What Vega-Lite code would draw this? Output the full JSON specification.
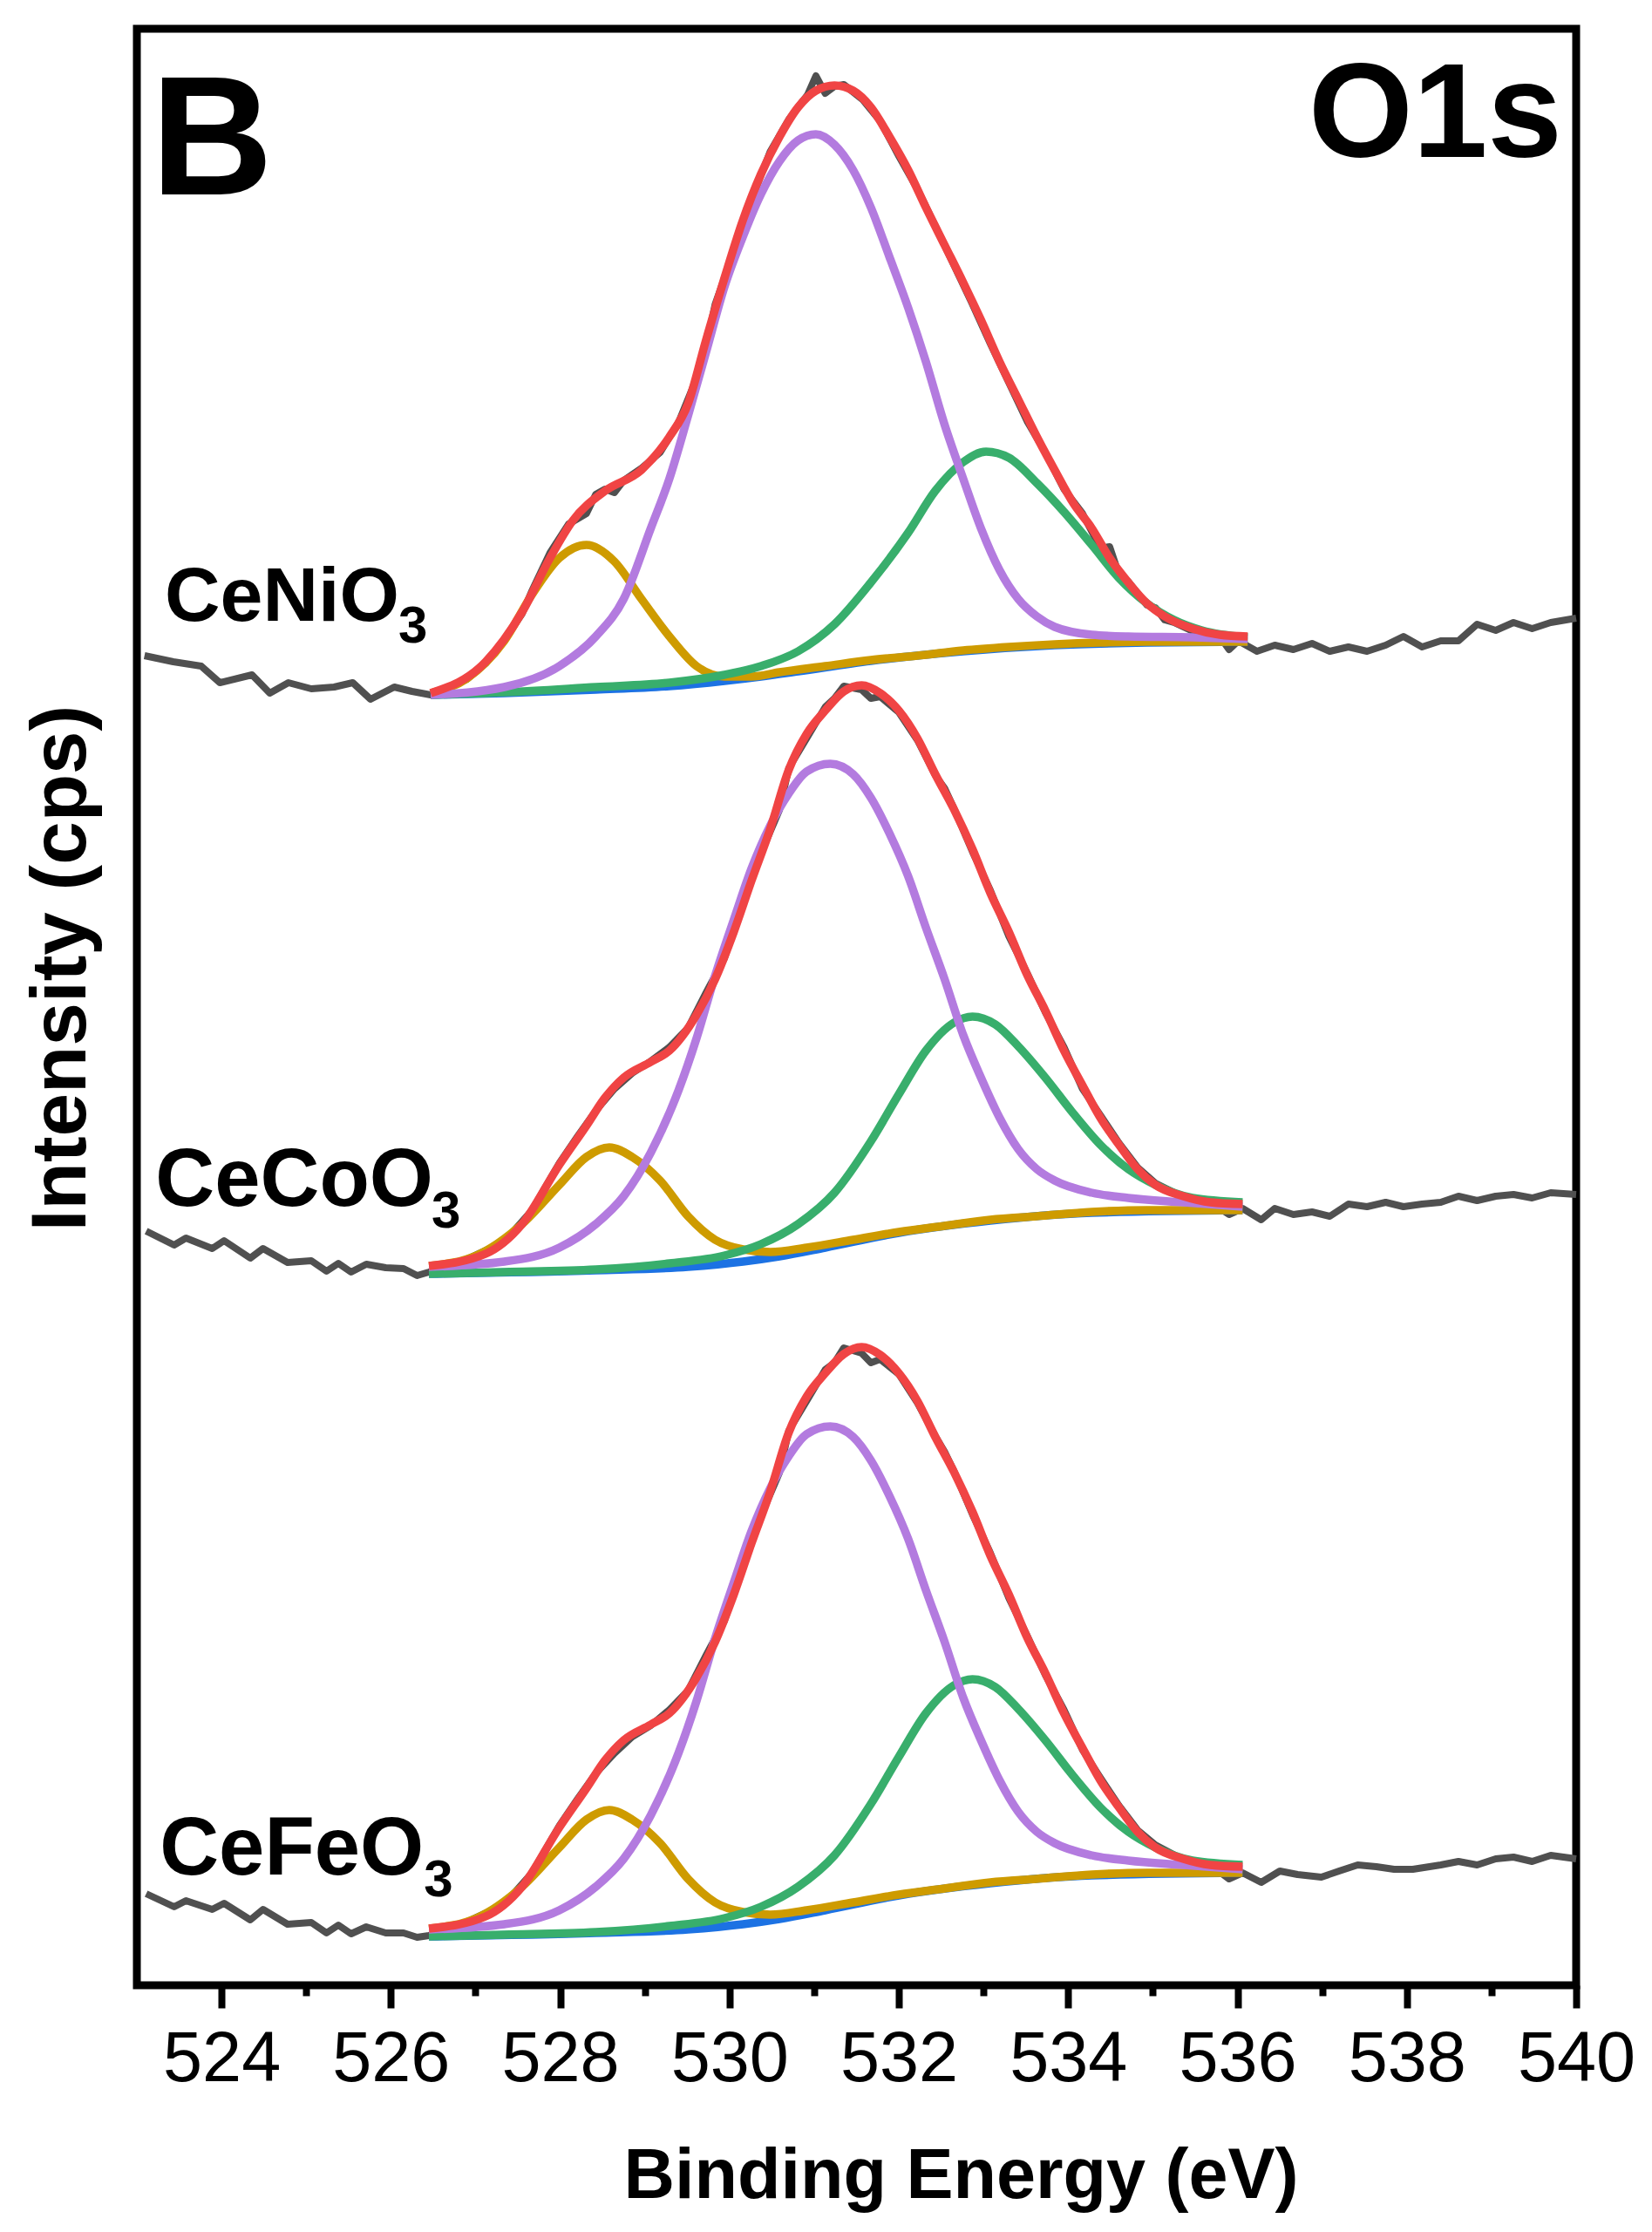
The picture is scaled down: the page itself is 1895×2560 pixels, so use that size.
{
  "$schema": "https://vega.github.io/schema/vega-lite/v6.json",
  "width": 1651,
  "height": 2244,
  "autosize": {"type": "none"},
  "padding": {"left": 157, "top": 33, "right": 87, "bottom": 283},
  "background": "white",
  "config": {
    "view": {"stroke": "black", "strokeWidth": 9},
    "axis": {"grid": false}
  },
  "datasets": {
    "spec": [
      {"s":"Ni","c":"raw","e":523.09,"v":1527},{"s":"Ni","c":"raw","e":523.43,"v":1520},{"s":"Ni","c":"raw","e":523.76,"v":1515},{"s":"Ni","c":"raw","e":523.98,"v":1496},
      {"s":"Ni","c":"raw","e":524.36,"v":1505},{"s":"Ni","c":"raw","e":524.57,"v":1484},{"s":"Ni","c":"raw","e":524.79,"v":1496},{"s":"Ni","c":"raw","e":525.06,"v":1489},
      {"s":"Ni","c":"raw","e":525.33,"v":1491},{"s":"Ni","c":"raw","e":525.55,"v":1496},{"s":"Ni","c":"raw","e":525.76,"v":1477},{"s":"Ni","c":"raw","e":526.04,"v":1491},
      {"s":"Ni","c":"raw","e":526.25,"v":1486},{"s":"Ni","c":"raw","e":526.47,"v":1482},{"s":"Ni","c":"raw","e":526.9,"v":1500},{"s":"Ni","c":"raw","e":527.12,"v":1518},
      {"s":"Ni","c":"raw","e":527.34,"v":1545},{"s":"Ni","c":"raw","e":527.55,"v":1575},{"s":"Ni","c":"raw","e":527.66,"v":1600},{"s":"Ni","c":"raw","e":527.88,"v":1645},
      {"s":"Ni","c":"raw","e":528.1,"v":1678},{"s":"Ni","c":"raw","e":528.31,"v":1690},{"s":"Ni","c":"raw","e":528.42,"v":1712},{"s":"Ni","c":"raw","e":528.53,"v":1718},
      {"s":"Ni","c":"raw","e":528.64,"v":1714},{"s":"Ni","c":"raw","e":528.75,"v":1728},{"s":"Ni","c":"raw","e":528.96,"v":1742},{"s":"Ni","c":"raw","e":529.18,"v":1760},
      {"s":"Ni","c":"raw","e":529.4,"v":1795},{"s":"Ni","c":"raw","e":529.61,"v":1845},{"s":"Ni","c":"raw","e":529.72,"v":1880},{"s":"Ni","c":"raw","e":529.83,"v":1930},
      {"s":"Ni","c":"raw","e":530.05,"v":1990},{"s":"Ni","c":"raw","e":530.26,"v":2050},{"s":"Ni","c":"raw","e":530.48,"v":2105},{"s":"Ni","c":"raw","e":530.7,"v":2142},
      {"s":"Ni","c":"raw","e":530.92,"v":2170},{"s":"Ni","c":"raw","e":531.02,"v":2192},{"s":"Ni","c":"raw","e":531.13,"v":2172},{"s":"Ni","c":"raw","e":531.24,"v":2180},
      {"s":"Ni","c":"raw","e":531.35,"v":2182},{"s":"Ni","c":"raw","e":531.57,"v":2165},{"s":"Ni","c":"raw","e":531.78,"v":2140},{"s":"Ni","c":"raw","e":532.0,"v":2100},
      {"s":"Ni","c":"raw","e":532.22,"v":2062},{"s":"Ni","c":"raw","e":532.43,"v":2020},{"s":"Ni","c":"raw","e":532.65,"v":1975},{"s":"Ni","c":"raw","e":532.86,"v":1932},
      {"s":"Ni","c":"raw","e":533.08,"v":1885},{"s":"Ni","c":"raw","e":533.3,"v":1840},{"s":"Ni","c":"raw","e":533.52,"v":1795},{"s":"Ni","c":"raw","e":533.73,"v":1760},
      {"s":"Ni","c":"raw","e":533.95,"v":1718},{"s":"Ni","c":"raw","e":534.17,"v":1690},{"s":"Ni","c":"raw","e":534.38,"v":1650},{"s":"Ni","c":"raw","e":534.49,"v":1652},
      {"s":"Ni","c":"raw","e":534.6,"v":1620},{"s":"Ni","c":"raw","e":534.71,"v":1612},{"s":"Ni","c":"raw","e":534.93,"v":1585},{"s":"Ni","c":"raw","e":535.03,"v":1582},
      {"s":"Ni","c":"raw","e":535.14,"v":1568},{"s":"Ni","c":"raw","e":535.25,"v":1565},{"s":"Ni","c":"raw","e":535.47,"v":1555},{"s":"Ni","c":"raw","e":535.79,"v":1549},
      {"s":"Ni","c":"raw","e":535.9,"v":1534},{"s":"Ni","c":"raw","e":536.01,"v":1544},{"s":"Ni","c":"raw","e":536.23,"v":1532},{"s":"Ni","c":"raw","e":536.44,"v":1539},
      {"s":"Ni","c":"raw","e":536.66,"v":1534},{"s":"Ni","c":"raw","e":536.88,"v":1541},{"s":"Ni","c":"raw","e":537.09,"v":1532},{"s":"Ni","c":"raw","e":537.31,"v":1537},
      {"s":"Ni","c":"raw","e":537.53,"v":1532},{"s":"Ni","c":"raw","e":537.75,"v":1539},{"s":"Ni","c":"raw","e":537.96,"v":1549},{"s":"Ni","c":"raw","e":538.18,"v":1537},
      {"s":"Ni","c":"raw","e":538.4,"v":1544},{"s":"Ni","c":"raw","e":538.61,"v":1544},{"s":"Ni","c":"raw","e":538.83,"v":1563},{"s":"Ni","c":"raw","e":539.05,"v":1556},
      {"s":"Ni","c":"raw","e":539.26,"v":1565},{"s":"Ni","c":"raw","e":539.48,"v":1558},{"s":"Ni","c":"raw","e":539.7,"v":1565},{"s":"Ni","c":"raw","e":540.0,"v":1570},

      {"s":"Ni","c":"env","e":526.47,"v":1484},{"s":"Ni","c":"env","e":527.12,"v":1520},{"s":"Ni","c":"env","e":527.55,"v":1577},{"s":"Ni","c":"env","e":527.88,"v":1639},
      {"s":"Ni","c":"env","e":528.15,"v":1682},{"s":"Ni","c":"env","e":528.53,"v":1716},{"s":"Ni","c":"env","e":528.96,"v":1740},{"s":"Ni","c":"env","e":529.29,"v":1778},
      {"s":"Ni","c":"env","e":529.51,"v":1816},{"s":"Ni","c":"env","e":529.72,"v":1888},{"s":"Ni","c":"env","e":529.94,"v":1960},{"s":"Ni","c":"env","e":530.16,"v":2027},
      {"s":"Ni","c":"env","e":530.37,"v":2079},{"s":"Ni","c":"env","e":530.59,"v":2122},{"s":"Ni","c":"env","e":530.81,"v":2156},{"s":"Ni","c":"env","e":531.02,"v":2175},
      {"s":"Ni","c":"env","e":531.24,"v":2181},{"s":"Ni","c":"env","e":531.46,"v":2175},{"s":"Ni","c":"env","e":531.67,"v":2156},{"s":"Ni","c":"env","e":531.89,"v":2122},
      {"s":"Ni","c":"env","e":532.11,"v":2084},{"s":"Ni","c":"env","e":532.32,"v":2041},{"s":"Ni","c":"env","e":532.54,"v":1998},{"s":"Ni","c":"env","e":532.76,"v":1955},
      {"s":"Ni","c":"env","e":532.97,"v":1912},{"s":"Ni","c":"env","e":533.19,"v":1864},{"s":"Ni","c":"env","e":533.41,"v":1821},{"s":"Ni","c":"env","e":533.63,"v":1778},
      {"s":"Ni","c":"env","e":533.84,"v":1740},{"s":"Ni","c":"env","e":534.06,"v":1702},{"s":"Ni","c":"env","e":534.28,"v":1673},{"s":"Ni","c":"env","e":534.49,"v":1639},
      {"s":"Ni","c":"env","e":534.71,"v":1611},{"s":"Ni","c":"env","e":534.93,"v":1587},{"s":"Ni","c":"env","e":535.14,"v":1572},{"s":"Ni","c":"env","e":535.47,"v":1558},
      {"s":"Ni","c":"env","e":535.79,"v":1551},{"s":"Ni","c":"env","e":536.12,"v":1549},

      {"s":"Ni","c":"p1","e":526.47,"v":1482},{"s":"Ni","c":"p1","e":527.34,"v":1491},{"s":"Ni","c":"p1","e":527.99,"v":1515},{"s":"Ni","c":"p1","e":528.42,"v":1549},
      {"s":"Ni","c":"p1","e":528.75,"v":1592},{"s":"Ni","c":"p1","e":529.07,"v":1673},{"s":"Ni","c":"p1","e":529.29,"v":1730},{"s":"Ni","c":"p1","e":529.51,"v":1802},
      {"s":"Ni","c":"p1","e":529.72,"v":1874},{"s":"Ni","c":"p1","e":529.94,"v":1950},{"s":"Ni","c":"p1","e":530.16,"v":2008},{"s":"Ni","c":"p1","e":530.37,"v":2056},
      {"s":"Ni","c":"p1","e":530.59,"v":2094},{"s":"Ni","c":"p1","e":530.81,"v":2118},{"s":"Ni","c":"p1","e":531.02,"v":2125},{"s":"Ni","c":"p1","e":531.24,"v":2113},
      {"s":"Ni","c":"p1","e":531.46,"v":2084},{"s":"Ni","c":"p1","e":531.67,"v":2041},{"s":"Ni","c":"p1","e":531.89,"v":1984},{"s":"Ni","c":"p1","e":532.11,"v":1926},
      {"s":"Ni","c":"p1","e":532.32,"v":1864},{"s":"Ni","c":"p1","e":532.54,"v":1792},{"s":"Ni","c":"p1","e":532.76,"v":1730},{"s":"Ni","c":"p1","e":532.97,"v":1673},
      {"s":"Ni","c":"p1","e":533.19,"v":1625},{"s":"Ni","c":"p1","e":533.41,"v":1592},{"s":"Ni","c":"p1","e":533.63,"v":1572},{"s":"Ni","c":"p1","e":533.84,"v":1560},
      {"s":"Ni","c":"p1","e":534.28,"v":1551},{"s":"Ni","c":"p1","e":534.71,"v":1549},{"s":"Ni","c":"p1","e":535.47,"v":1548},{"s":"Ni","c":"p1","e":536.12,"v":1546},

      {"s":"Ni","c":"p2","e":526.47,"v":1482},{"s":"Ni","c":"p2","e":527.34,"v":1485},{"s":"Ni","c":"p2","e":528.42,"v":1491},{"s":"Ni","c":"p2","e":529.29,"v":1496},
      {"s":"Ni","c":"p2","e":529.94,"v":1505},{"s":"Ni","c":"p2","e":530.37,"v":1515},{"s":"Ni","c":"p2","e":530.81,"v":1532},{"s":"Ni","c":"p2","e":531.24,"v":1563},
      {"s":"Ni","c":"p2","e":531.67,"v":1611},{"s":"Ni","c":"p2","e":532.11,"v":1668},{"s":"Ni","c":"p2","e":532.43,"v":1716},{"s":"Ni","c":"p2","e":532.76,"v":1749},
      {"s":"Ni","c":"p2","e":533.03,"v":1761},{"s":"Ni","c":"p2","e":533.3,"v":1754},{"s":"Ni","c":"p2","e":533.63,"v":1725},{"s":"Ni","c":"p2","e":533.95,"v":1692},
      {"s":"Ni","c":"p2","e":534.28,"v":1654},{"s":"Ni","c":"p2","e":534.6,"v":1616},{"s":"Ni","c":"p2","e":534.93,"v":1587},{"s":"Ni","c":"p2","e":535.25,"v":1568},
      {"s":"Ni","c":"p2","e":535.58,"v":1556},{"s":"Ni","c":"p2","e":536.12,"v":1548},

      {"s":"Ni","c":"p3","e":526.47,"v":1484},{"s":"Ni","c":"p3","e":526.9,"v":1501},{"s":"Ni","c":"p3","e":527.34,"v":1544},{"s":"Ni","c":"p3","e":527.66,"v":1596},
      {"s":"Ni","c":"p3","e":527.99,"v":1639},{"s":"Ni","c":"p3","e":528.31,"v":1654},{"s":"Ni","c":"p3","e":528.64,"v":1635},{"s":"Ni","c":"p3","e":528.96,"v":1592},
      {"s":"Ni","c":"p3","e":529.29,"v":1549},{"s":"Ni","c":"p3","e":529.61,"v":1515},{"s":"Ni","c":"p3","e":529.94,"v":1503},{"s":"Ni","c":"p3","e":530.26,"v":1503},
      {"s":"Ni","c":"p3","e":530.59,"v":1508},{"s":"Ni","c":"p3","e":531.13,"v":1515},{"s":"Ni","c":"p3","e":531.67,"v":1522},{"s":"Ni","c":"p3","e":532.22,"v":1527},
      {"s":"Ni","c":"p3","e":532.76,"v":1533},{"s":"Ni","c":"p3","e":533.3,"v":1537},{"s":"Ni","c":"p3","e":533.84,"v":1540},{"s":"Ni","c":"p3","e":534.38,"v":1542},
      {"s":"Ni","c":"p3","e":534.93,"v":1543},{"s":"Ni","c":"p3","e":536.12,"v":1543},

      {"s":"Ni","c":"bg","e":526.47,"v":1482},{"s":"Ni","c":"bg","e":527.34,"v":1484},{"s":"Ni","c":"bg","e":528.42,"v":1488},{"s":"Ni","c":"bg","e":529.29,"v":1492},
      {"s":"Ni","c":"bg","e":529.94,"v":1498},{"s":"Ni","c":"bg","e":530.37,"v":1503},{"s":"Ni","c":"bg","e":530.81,"v":1509},{"s":"Ni","c":"bg","e":531.67,"v":1521},
      {"s":"Ni","c":"bg","e":532.76,"v":1532},{"s":"Ni","c":"bg","e":533.84,"v":1539},{"s":"Ni","c":"bg","e":534.93,"v":1542},{"s":"Ni","c":"bg","e":536.12,"v":1543},

      {"s":"Co","c":"raw","e":523.11,"v":867},{"s":"Co","c":"raw","e":523.44,"v":851},{"s":"Co","c":"raw","e":523.58,"v":859},{"s":"Co","c":"raw","e":523.89,"v":847},
      {"s":"Co","c":"raw","e":524.03,"v":856},{"s":"Co","c":"raw","e":524.34,"v":836},{"s":"Co","c":"raw","e":524.49,"v":847},{"s":"Co","c":"raw","e":524.78,"v":831},
      {"s":"Co","c":"raw","e":525.06,"v":833},{"s":"Co","c":"raw","e":525.24,"v":821},{"s":"Co","c":"raw","e":525.38,"v":830},{"s":"Co","c":"raw","e":525.53,"v":820},
      {"s":"Co","c":"raw","e":525.71,"v":829},{"s":"Co","c":"raw","e":525.94,"v":825},{"s":"Co","c":"raw","e":526.15,"v":824},{"s":"Co","c":"raw","e":526.31,"v":816},
      {"s":"Co","c":"raw","e":526.45,"v":820},{"s":"Co","c":"raw","e":526.9,"v":835},{"s":"Co","c":"raw","e":527.34,"v":855},{"s":"Co","c":"raw","e":527.66,"v":890},
      {"s":"Co","c":"raw","e":527.99,"v":945},{"s":"Co","c":"raw","e":528.2,"v":975},{"s":"Co","c":"raw","e":528.42,"v":1005},{"s":"Co","c":"raw","e":528.64,"v":1030},
      {"s":"Co","c":"raw","e":528.85,"v":1048},{"s":"Co","c":"raw","e":529.07,"v":1062},{"s":"Co","c":"raw","e":529.29,"v":1078},{"s":"Co","c":"raw","e":529.51,"v":1100},
      {"s":"Co","c":"raw","e":529.72,"v":1140},{"s":"Co","c":"raw","e":529.94,"v":1180},{"s":"Co","c":"raw","e":530.16,"v":1245},{"s":"Co","c":"raw","e":530.37,"v":1300},
      {"s":"Co","c":"raw","e":530.59,"v":1350},{"s":"Co","c":"raw","e":530.7,"v":1398},{"s":"Co","c":"raw","e":530.91,"v":1432},{"s":"Co","c":"raw","e":531.13,"v":1468},
      {"s":"Co","c":"raw","e":531.24,"v":1478},{"s":"Co","c":"raw","e":531.35,"v":1492},{"s":"Co","c":"raw","e":531.56,"v":1488},{"s":"Co","c":"raw","e":531.67,"v":1478},
      {"s":"Co","c":"raw","e":531.78,"v":1480},{"s":"Co","c":"raw","e":532.0,"v":1462},{"s":"Co","c":"raw","e":532.22,"v":1430},{"s":"Co","c":"raw","e":532.43,"v":1390},
      {"s":"Co","c":"raw","e":532.54,"v":1375},{"s":"Co","c":"raw","e":532.65,"v":1352},{"s":"Co","c":"raw","e":532.87,"v":1302},{"s":"Co","c":"raw","e":533.08,"v":1258},
      {"s":"Co","c":"raw","e":533.3,"v":1205},{"s":"Co","c":"raw","e":533.52,"v":1162},{"s":"Co","c":"raw","e":533.73,"v":1118},{"s":"Co","c":"raw","e":533.95,"v":1078},
      {"s":"Co","c":"raw","e":534.17,"v":1030},{"s":"Co","c":"raw","e":534.38,"v":1000},{"s":"Co","c":"raw","e":534.6,"v":968},{"s":"Co","c":"raw","e":534.82,"v":940},
      {"s":"Co","c":"raw","e":535.03,"v":922},{"s":"Co","c":"raw","e":535.36,"v":906},{"s":"Co","c":"raw","e":535.68,"v":900},{"s":"Co","c":"raw","e":535.9,"v":886},
      {"s":"Co","c":"raw","e":536.06,"v":893},{"s":"Co","c":"raw","e":536.28,"v":880},{"s":"Co","c":"raw","e":536.44,"v":893},{"s":"Co","c":"raw","e":536.66,"v":886},
      {"s":"Co","c":"raw","e":536.88,"v":889},{"s":"Co","c":"raw","e":537.09,"v":884},{"s":"Co","c":"raw","e":537.31,"v":898},{"s":"Co","c":"raw","e":537.53,"v":895},
      {"s":"Co","c":"raw","e":537.75,"v":900},{"s":"Co","c":"raw","e":537.96,"v":895},{"s":"Co","c":"raw","e":538.18,"v":898},{"s":"Co","c":"raw","e":538.4,"v":900},
      {"s":"Co","c":"raw","e":538.61,"v":907},{"s":"Co","c":"raw","e":538.83,"v":902},{"s":"Co","c":"raw","e":539.05,"v":907},{"s":"Co","c":"raw","e":539.26,"v":909},
      {"s":"Co","c":"raw","e":539.48,"v":905},{"s":"Co","c":"raw","e":539.7,"v":911},{"s":"Co","c":"raw","e":540.0,"v":909},

      {"s":"Co","c":"env","e":526.45,"v":827},{"s":"Co","c":"env","e":527.12,"v":841},{"s":"Co","c":"env","e":527.55,"v":875},{"s":"Co","c":"env","e":527.99,"v":943},
      {"s":"Co","c":"env","e":528.31,"v":988},{"s":"Co","c":"env","e":528.53,"v":1020},{"s":"Co","c":"env","e":528.75,"v":1043},{"s":"Co","c":"env","e":529.07,"v":1061},
      {"s":"Co","c":"env","e":529.29,"v":1074},{"s":"Co","c":"env","e":529.61,"v":1115},{"s":"Co","c":"env","e":529.83,"v":1156},{"s":"Co","c":"env","e":530.05,"v":1210},
      {"s":"Co","c":"env","e":530.26,"v":1269},{"s":"Co","c":"env","e":530.48,"v":1328},{"s":"Co","c":"env","e":530.7,"v":1396},{"s":"Co","c":"env","e":530.91,"v":1437},
      {"s":"Co","c":"env","e":531.13,"v":1464},{"s":"Co","c":"env","e":531.35,"v":1486},{"s":"Co","c":"env","e":531.56,"v":1493},{"s":"Co","c":"env","e":531.78,"v":1484},
      {"s":"Co","c":"env","e":532.0,"v":1464},{"s":"Co","c":"env","e":532.22,"v":1432},{"s":"Co","c":"env","e":532.43,"v":1391},{"s":"Co","c":"env","e":532.65,"v":1351},
      {"s":"Co","c":"env","e":532.87,"v":1305},{"s":"Co","c":"env","e":533.08,"v":1255},{"s":"Co","c":"env","e":533.3,"v":1210},{"s":"Co","c":"env","e":533.52,"v":1160},
      {"s":"Co","c":"env","e":533.73,"v":1120},{"s":"Co","c":"env","e":533.95,"v":1074},{"s":"Co","c":"env","e":534.17,"v":1034},{"s":"Co","c":"env","e":534.38,"v":997},
      {"s":"Co","c":"env","e":534.6,"v":966},{"s":"Co","c":"env","e":534.82,"v":938},{"s":"Co","c":"env","e":535.03,"v":920},{"s":"Co","c":"env","e":535.36,"v":907},
      {"s":"Co","c":"env","e":535.68,"v":900},{"s":"Co","c":"env","e":536.06,"v":898},

      {"s":"Co","c":"p1","e":526.45,"v":826},{"s":"Co","c":"p1","e":527.34,"v":832},{"s":"Co","c":"p1","e":527.99,"v":848},{"s":"Co","c":"p1","e":528.42,"v":875},
      {"s":"Co","c":"p1","e":528.75,"v":907},{"s":"Co","c":"p1","e":529.07,"v":957},{"s":"Co","c":"p1","e":529.4,"v":1029},{"s":"Co","c":"p1","e":529.61,"v":1088},
      {"s":"Co","c":"p1","e":529.83,"v":1160},{"s":"Co","c":"p1","e":530.05,"v":1224},{"s":"Co","c":"p1","e":530.26,"v":1283},{"s":"Co","c":"p1","e":530.48,"v":1332},
      {"s":"Co","c":"p1","e":530.7,"v":1369},{"s":"Co","c":"p1","e":530.91,"v":1394},{"s":"Co","c":"p1","e":531.19,"v":1403},{"s":"Co","c":"p1","e":531.46,"v":1391},
      {"s":"Co","c":"p1","e":531.67,"v":1364},{"s":"Co","c":"p1","e":531.89,"v":1323},{"s":"Co","c":"p1","e":532.11,"v":1274},{"s":"Co","c":"p1","e":532.32,"v":1215},
      {"s":"Co","c":"p1","e":532.54,"v":1156},{"s":"Co","c":"p1","e":532.76,"v":1092},{"s":"Co","c":"p1","e":532.97,"v":1043},{"s":"Co","c":"p1","e":533.19,"v":997},
      {"s":"Co","c":"p1","e":533.41,"v":961},{"s":"Co","c":"p1","e":533.63,"v":938},{"s":"Co","c":"p1","e":533.84,"v":925},{"s":"Co","c":"p1","e":534.28,"v":911},
      {"s":"Co","c":"p1","e":534.71,"v":905},{"s":"Co","c":"p1","e":535.36,"v":900},{"s":"Co","c":"p1","e":536.06,"v":895},

      {"s":"Co","c":"p2","e":526.45,"v":818},{"s":"Co","c":"p2","e":527.34,"v":820},{"s":"Co","c":"p2","e":528.42,"v":823},{"s":"Co","c":"p2","e":529.29,"v":830},
      {"s":"Co","c":"p2","e":529.94,"v":839},{"s":"Co","c":"p2","e":530.37,"v":852},{"s":"Co","c":"p2","e":530.81,"v":875},{"s":"Co","c":"p2","e":531.24,"v":911},
      {"s":"Co","c":"p2","e":531.67,"v":970},{"s":"Co","c":"p2","e":532.0,"v":1024},{"s":"Co","c":"p2","e":532.32,"v":1074},{"s":"Co","c":"p2","e":532.65,"v":1106},
      {"s":"Co","c":"p2","e":532.87,"v":1113},{"s":"Co","c":"p2","e":533.14,"v":1104},{"s":"Co","c":"p2","e":533.41,"v":1079},{"s":"Co","c":"p2","e":533.73,"v":1043},
      {"s":"Co","c":"p2","e":534.06,"v":1002},{"s":"Co","c":"p2","e":534.38,"v":966},{"s":"Co","c":"p2","e":534.71,"v":938},{"s":"Co","c":"p2","e":535.03,"v":920},
      {"s":"Co","c":"p2","e":535.47,"v":905},{"s":"Co","c":"p2","e":536.06,"v":900},

      {"s":"Co","c":"p3","e":526.45,"v":827},{"s":"Co","c":"p3","e":527.01,"v":839},{"s":"Co","c":"p3","e":527.55,"v":875},{"s":"Co","c":"p3","e":527.99,"v":920},
      {"s":"Co","c":"p3","e":528.31,"v":952},{"s":"Co","c":"p3","e":528.58,"v":963},{"s":"Co","c":"p3","e":528.85,"v":952},{"s":"Co","c":"p3","e":529.18,"v":925},
      {"s":"Co","c":"p3","e":529.51,"v":884},{"s":"Co","c":"p3","e":529.83,"v":857},{"s":"Co","c":"p3","e":530.16,"v":846},{"s":"Co","c":"p3","e":530.48,"v":843},
      {"s":"Co","c":"p3","e":530.91,"v":848},{"s":"Co","c":"p3","e":531.46,"v":857},{"s":"Co","c":"p3","e":532.0,"v":866},{"s":"Co","c":"p3","e":532.54,"v":873},
      {"s":"Co","c":"p3","e":533.08,"v":880},{"s":"Co","c":"p3","e":533.63,"v":884},{"s":"Co","c":"p3","e":534.28,"v":889},{"s":"Co","c":"p3","e":534.93,"v":891},
      {"s":"Co","c":"p3","e":536.06,"v":891},

      {"s":"Co","c":"bg","e":526.45,"v":818},{"s":"Co","c":"bg","e":528.42,"v":822},{"s":"Co","c":"bg","e":529.51,"v":826},{"s":"Co","c":"bg","e":530.16,"v":832},
      {"s":"Co","c":"bg","e":530.59,"v":838},{"s":"Co","c":"bg","e":531.13,"v":848},{"s":"Co","c":"bg","e":532.0,"v":865},{"s":"Co","c":"bg","e":533.08,"v":879},
      {"s":"Co","c":"bg","e":534.28,"v":888},{"s":"Co","c":"bg","e":536.06,"v":891},

      {"s":"Fe","c":"raw","e":523.11,"v":107},{"s":"Fe","c":"raw","e":523.44,"v":92},{"s":"Fe","c":"raw","e":523.58,"v":99},{"s":"Fe","c":"raw","e":523.89,"v":89},
      {"s":"Fe","c":"raw","e":524.03,"v":96},{"s":"Fe","c":"raw","e":524.34,"v":77},{"s":"Fe","c":"raw","e":524.49,"v":89},{"s":"Fe","c":"raw","e":524.78,"v":72},
      {"s":"Fe","c":"raw","e":525.06,"v":74},{"s":"Fe","c":"raw","e":525.24,"v":62},{"s":"Fe","c":"raw","e":525.38,"v":71},{"s":"Fe","c":"raw","e":525.53,"v":61},
      {"s":"Fe","c":"raw","e":525.71,"v":69},{"s":"Fe","c":"raw","e":525.94,"v":62},{"s":"Fe","c":"raw","e":526.15,"v":62},{"s":"Fe","c":"raw","e":526.31,"v":57},
      {"s":"Fe","c":"raw","e":526.45,"v":59},{"s":"Fe","c":"raw","e":526.9,"v":75},{"s":"Fe","c":"raw","e":527.34,"v":95},{"s":"Fe","c":"raw","e":527.66,"v":130},
      {"s":"Fe","c":"raw","e":527.99,"v":185},{"s":"Fe","c":"raw","e":528.2,"v":215},{"s":"Fe","c":"raw","e":528.42,"v":245},{"s":"Fe","c":"raw","e":528.64,"v":268},
      {"s":"Fe","c":"raw","e":528.85,"v":287},{"s":"Fe","c":"raw","e":529.07,"v":300},{"s":"Fe","c":"raw","e":529.29,"v":318},{"s":"Fe","c":"raw","e":529.51,"v":340},
      {"s":"Fe","c":"raw","e":529.72,"v":380},{"s":"Fe","c":"raw","e":529.94,"v":420},{"s":"Fe","c":"raw","e":530.16,"v":485},{"s":"Fe","c":"raw","e":530.37,"v":540},
      {"s":"Fe","c":"raw","e":530.59,"v":590},{"s":"Fe","c":"raw","e":530.7,"v":638},{"s":"Fe","c":"raw","e":530.91,"v":672},{"s":"Fe","c":"raw","e":531.13,"v":708},
      {"s":"Fe","c":"raw","e":531.24,"v":716},{"s":"Fe","c":"raw","e":531.35,"v":733},{"s":"Fe","c":"raw","e":531.56,"v":727},{"s":"Fe","c":"raw","e":531.67,"v":716},
      {"s":"Fe","c":"raw","e":531.78,"v":720},{"s":"Fe","c":"raw","e":532.0,"v":703},{"s":"Fe","c":"raw","e":532.22,"v":670},{"s":"Fe","c":"raw","e":532.43,"v":632},
      {"s":"Fe","c":"raw","e":532.54,"v":614},{"s":"Fe","c":"raw","e":532.65,"v":592},{"s":"Fe","c":"raw","e":532.87,"v":542},{"s":"Fe","c":"raw","e":533.08,"v":498},
      {"s":"Fe","c":"raw","e":533.3,"v":446},{"s":"Fe","c":"raw","e":533.52,"v":402},{"s":"Fe","c":"raw","e":533.73,"v":358},{"s":"Fe","c":"raw","e":533.95,"v":318},
      {"s":"Fe","c":"raw","e":534.17,"v":272},{"s":"Fe","c":"raw","e":534.38,"v":240},{"s":"Fe","c":"raw","e":534.6,"v":208},{"s":"Fe","c":"raw","e":534.82,"v":180},
      {"s":"Fe","c":"raw","e":535.03,"v":163},{"s":"Fe","c":"raw","e":535.36,"v":146},{"s":"Fe","c":"raw","e":535.68,"v":140},{"s":"Fe","c":"raw","e":535.9,"v":124},
      {"s":"Fe","c":"raw","e":536.06,"v":131},{"s":"Fe","c":"raw","e":536.28,"v":120},{"s":"Fe","c":"raw","e":536.5,"v":133},{"s":"Fe","c":"raw","e":536.71,"v":129},
      {"s":"Fe","c":"raw","e":536.99,"v":126},{"s":"Fe","c":"raw","e":537.2,"v":133},{"s":"Fe","c":"raw","e":537.42,"v":140},{"s":"Fe","c":"raw","e":537.64,"v":138},
      {"s":"Fe","c":"raw","e":537.85,"v":135},{"s":"Fe","c":"raw","e":538.07,"v":135},{"s":"Fe","c":"raw","e":538.4,"v":140},{"s":"Fe","c":"raw","e":538.61,"v":144},
      {"s":"Fe","c":"raw","e":538.83,"v":140},{"s":"Fe","c":"raw","e":539.05,"v":147},{"s":"Fe","c":"raw","e":539.26,"v":149},{"s":"Fe","c":"raw","e":539.48,"v":144},
      {"s":"Fe","c":"raw","e":539.7,"v":151},{"s":"Fe","c":"raw","e":540.0,"v":147},

      {"s":"Fe","c":"env","e":526.45,"v":67},{"s":"Fe","c":"env","e":527.12,"v":81},{"s":"Fe","c":"env","e":527.55,"v":115},{"s":"Fe","c":"env","e":527.99,"v":183},
      {"s":"Fe","c":"env","e":528.31,"v":228},{"s":"Fe","c":"env","e":528.53,"v":260},{"s":"Fe","c":"env","e":528.75,"v":283},{"s":"Fe","c":"env","e":529.07,"v":301},
      {"s":"Fe","c":"env","e":529.29,"v":314},{"s":"Fe","c":"env","e":529.61,"v":355},{"s":"Fe","c":"env","e":529.83,"v":396},{"s":"Fe","c":"env","e":530.05,"v":450},
      {"s":"Fe","c":"env","e":530.26,"v":509},{"s":"Fe","c":"env","e":530.48,"v":568},{"s":"Fe","c":"env","e":530.7,"v":636},{"s":"Fe","c":"env","e":530.91,"v":677},
      {"s":"Fe","c":"env","e":531.13,"v":704},{"s":"Fe","c":"env","e":531.35,"v":726},{"s":"Fe","c":"env","e":531.56,"v":734},{"s":"Fe","c":"env","e":531.78,"v":725},
      {"s":"Fe","c":"env","e":532.0,"v":704},{"s":"Fe","c":"env","e":532.22,"v":672},{"s":"Fe","c":"env","e":532.43,"v":631},{"s":"Fe","c":"env","e":532.65,"v":591},
      {"s":"Fe","c":"env","e":532.87,"v":545},{"s":"Fe","c":"env","e":533.08,"v":495},{"s":"Fe","c":"env","e":533.3,"v":450},{"s":"Fe","c":"env","e":533.52,"v":400},
      {"s":"Fe","c":"env","e":533.73,"v":360},{"s":"Fe","c":"env","e":533.95,"v":314},{"s":"Fe","c":"env","e":534.17,"v":274},{"s":"Fe","c":"env","e":534.38,"v":237},
      {"s":"Fe","c":"env","e":534.6,"v":206},{"s":"Fe","c":"env","e":534.82,"v":178},{"s":"Fe","c":"env","e":535.03,"v":160},{"s":"Fe","c":"env","e":535.36,"v":147},
      {"s":"Fe","c":"env","e":535.68,"v":140},{"s":"Fe","c":"env","e":536.06,"v":138},

      {"s":"Fe","c":"p1","e":526.45,"v":66},{"s":"Fe","c":"p1","e":527.34,"v":72},{"s":"Fe","c":"p1","e":527.99,"v":88},{"s":"Fe","c":"p1","e":528.42,"v":115},
      {"s":"Fe","c":"p1","e":528.75,"v":147},{"s":"Fe","c":"p1","e":529.07,"v":197},{"s":"Fe","c":"p1","e":529.4,"v":269},{"s":"Fe","c":"p1","e":529.61,"v":328},
      {"s":"Fe","c":"p1","e":529.83,"v":400},{"s":"Fe","c":"p1","e":530.05,"v":464},{"s":"Fe","c":"p1","e":530.26,"v":523},{"s":"Fe","c":"p1","e":530.48,"v":572},
      {"s":"Fe","c":"p1","e":530.7,"v":609},{"s":"Fe","c":"p1","e":530.91,"v":634},{"s":"Fe","c":"p1","e":531.19,"v":643},{"s":"Fe","c":"p1","e":531.46,"v":631},
      {"s":"Fe","c":"p1","e":531.67,"v":604},{"s":"Fe","c":"p1","e":531.89,"v":563},{"s":"Fe","c":"p1","e":532.11,"v":514},{"s":"Fe","c":"p1","e":532.32,"v":455},
      {"s":"Fe","c":"p1","e":532.54,"v":396},{"s":"Fe","c":"p1","e":532.76,"v":332},{"s":"Fe","c":"p1","e":532.97,"v":283},{"s":"Fe","c":"p1","e":533.19,"v":237},
      {"s":"Fe","c":"p1","e":533.41,"v":201},{"s":"Fe","c":"p1","e":533.63,"v":178},{"s":"Fe","c":"p1","e":533.84,"v":165},{"s":"Fe","c":"p1","e":534.28,"v":151},
      {"s":"Fe","c":"p1","e":534.71,"v":145},{"s":"Fe","c":"p1","e":535.36,"v":140},{"s":"Fe","c":"p1","e":536.06,"v":135},

      {"s":"Fe","c":"p2","e":526.45,"v":58},{"s":"Fe","c":"p2","e":527.34,"v":60},{"s":"Fe","c":"p2","e":528.42,"v":63},{"s":"Fe","c":"p2","e":529.29,"v":70},
      {"s":"Fe","c":"p2","e":529.94,"v":79},{"s":"Fe","c":"p2","e":530.37,"v":92},{"s":"Fe","c":"p2","e":530.81,"v":115},{"s":"Fe","c":"p2","e":531.24,"v":151},
      {"s":"Fe","c":"p2","e":531.67,"v":210},{"s":"Fe","c":"p2","e":532.0,"v":264},{"s":"Fe","c":"p2","e":532.32,"v":314},{"s":"Fe","c":"p2","e":532.65,"v":346},
      {"s":"Fe","c":"p2","e":532.87,"v":353},{"s":"Fe","c":"p2","e":533.14,"v":344},{"s":"Fe","c":"p2","e":533.41,"v":319},{"s":"Fe","c":"p2","e":533.73,"v":283},
      {"s":"Fe","c":"p2","e":534.06,"v":242},{"s":"Fe","c":"p2","e":534.38,"v":206},{"s":"Fe","c":"p2","e":534.71,"v":178},{"s":"Fe","c":"p2","e":535.03,"v":160},
      {"s":"Fe","c":"p2","e":535.47,"v":145},{"s":"Fe","c":"p2","e":536.06,"v":140},

      {"s":"Fe","c":"p3","e":526.45,"v":67},{"s":"Fe","c":"p3","e":527.01,"v":79},{"s":"Fe","c":"p3","e":527.55,"v":115},{"s":"Fe","c":"p3","e":527.99,"v":160},
      {"s":"Fe","c":"p3","e":528.31,"v":192},{"s":"Fe","c":"p3","e":528.58,"v":203},{"s":"Fe","c":"p3","e":528.85,"v":192},{"s":"Fe","c":"p3","e":529.18,"v":165},
      {"s":"Fe","c":"p3","e":529.51,"v":124},{"s":"Fe","c":"p3","e":529.83,"v":97},{"s":"Fe","c":"p3","e":530.16,"v":86},{"s":"Fe","c":"p3","e":530.48,"v":83},
      {"s":"Fe","c":"p3","e":530.91,"v":88},{"s":"Fe","c":"p3","e":531.46,"v":97},{"s":"Fe","c":"p3","e":532.0,"v":106},{"s":"Fe","c":"p3","e":532.54,"v":113},
      {"s":"Fe","c":"p3","e":533.08,"v":120},{"s":"Fe","c":"p3","e":533.63,"v":124},{"s":"Fe","c":"p3","e":534.28,"v":129},{"s":"Fe","c":"p3","e":534.93,"v":131},
      {"s":"Fe","c":"p3","e":536.06,"v":131},

      {"s":"Fe","c":"bg","e":526.45,"v":58},{"s":"Fe","c":"bg","e":528.42,"v":62},{"s":"Fe","c":"bg","e":529.51,"v":66},{"s":"Fe","c":"bg","e":530.16,"v":72},
      {"s":"Fe","c":"bg","e":530.59,"v":78},{"s":"Fe","c":"bg","e":531.13,"v":88},{"s":"Fe","c":"bg","e":532.0,"v":105},{"s":"Fe","c":"bg","e":533.08,"v":119},
      {"s":"Fe","c":"bg","e":534.28,"v":128},{"s":"Fe","c":"bg","e":536.06,"v":131}
    ],
    "names": [
      {"t":"CeNiO","e":523.33,"v":1567},
      {"t":"CeCoO","e":523.22,"v":896},
      {"t":"CeFeO","e":523.27,"v":129}
    ],
    "subs": [
      {"t":"3","e":526.09,"v":1542},
      {"t":"3","e":526.48,"v":871},
      {"t":"3","e":526.39,"v":104}
    ],
    "marks": [
      {"t":"B","e":523.165,"v":2056}
    ],
    "core": [
      {"t":"O1s","e":539.835,"v":2099}
    ]
  },
  "encoding": {
    "y": {
      "field": "v",
      "type": "quantitative",
      "scale": {"domain": [2, 2246], "nice": false, "zero": false},
      "axis": {
        "domain": false,
        "ticks": false,
        "labels": false,
        "grid": false,
        "title": "Intensity (cps)",
        "titleFont": "Liberation Sans",
        "titleFontWeight": "bold",
        "titleFontSize": 89,
        "titleColor": "black",
        "titleAngle": -90,
        "titleX": -60,
        "titleY": 1077,
        "titleAlign": "center",
        "titleBaseline": "alphabetic"
      }
    }
  },
  "resolve": {"axis": {"x": "independent"}},
  "layer": [
    {
      "data": {"name": "spec"},
      "transform": [{"filter": "datum.c === 'raw'"}],
      "mark": {"type": "line", "color": "#505050", "strokeWidth": 8, "strokeJoin": "round"},
      "encoding": {
        "x": {
          "field": "e",
          "type": "quantitative",
          "scale": {"domain": [523, 540], "nice": false, "zero": false},
          "axis": {
            "orient": "bottom",
            "values": [524, 526, 528, 530, 532, 534, 536, 538, 540],
            "domain": false,
            "grid": false,
            "tickSize": 26,
            "tickWidth": 8,
            "tickColor": "black",
            "labelFont": "Liberation Sans",
            "labelFontSize": 81,
            "labelColor": "black",
            "labelPadding": 19,
            "labelFlush": false,
            "labelOverlap": false,
            "labelBound": false,
            "labelBaseline": "top",
            "title": "Binding Energy (eV)",
            "titleFont": "Liberation Sans",
            "titleFontWeight": "bold",
            "titleFontSize": 81,
            "titleColor": "black",
            "titleX": 945,
            "titleY": 243,
            "titleAlign": "center",
            "titleBaseline": "alphabetic"
          }
        },
        "detail": {"field": "s"}
      }
    },
    {
      "data": {"name": "spec"},
      "transform": [{"filter": "datum.c === 'bg'"}],
      "mark": {"type": "line", "color": "#1C72E3", "strokeWidth": 9.5, "interpolate": "monotone"},
      "encoding": {
        "x": {
          "field": "e",
          "type": "quantitative",
          "scale": {"domain": [523, 540], "nice": false, "zero": false},
          "axis": {
            "orient": "bottom",
            "values": [525, 527, 529, 531, 533, 535, 537, 539],
            "domain": false,
            "grid": false,
            "tickSize": 12,
            "tickWidth": 8,
            "tickColor": "black",
            "labels": false,
            "title": null
          }
        },
        "detail": {"field": "s"}
      }
    },
    {
      "data": {"name": "spec"},
      "transform": [{"filter": "datum.c === 'p3'"}],
      "mark": {"type": "line", "color": "#CE9B00", "strokeWidth": 9.5, "interpolate": "monotone"},
      "encoding": {
        "x": {"field": "e", "type": "quantitative", "scale": {"domain": [523, 540], "nice": false, "zero": false}, "axis": null},
        "detail": {"field": "s"}
      }
    },
    {
      "data": {"name": "spec"},
      "transform": [{"filter": "datum.c === 'p2'"}],
      "mark": {"type": "line", "color": "#38AE6C", "strokeWidth": 9.5, "interpolate": "monotone"},
      "encoding": {
        "x": {"field": "e", "type": "quantitative", "scale": {"domain": [523, 540], "nice": false, "zero": false}, "axis": null},
        "detail": {"field": "s"}
      }
    },
    {
      "data": {"name": "spec"},
      "transform": [{"filter": "datum.c === 'p1'"}],
      "mark": {"type": "line", "color": "#B37BDF", "strokeWidth": 9.5, "interpolate": "monotone"},
      "encoding": {
        "x": {"field": "e", "type": "quantitative", "scale": {"domain": [523, 540], "nice": false, "zero": false}, "axis": null},
        "detail": {"field": "s"}
      }
    },
    {
      "data": {"name": "spec"},
      "transform": [{"filter": "datum.c === 'env'"}],
      "mark": {"type": "line", "color": "#F04444", "strokeWidth": 9.5, "interpolate": "monotone"},
      "encoding": {
        "x": {"field": "e", "type": "quantitative", "scale": {"domain": [523, 540], "nice": false, "zero": false}, "axis": null},
        "detail": {"field": "s"}
      }
    },
    {
      "data": {"name": "names"},
      "mark": {"type": "text", "font": "Liberation Sans", "fontWeight": "bold", "align": "left", "baseline": "alphabetic", "color": "black"},
      "encoding": {
        "x": {"field": "e", "type": "quantitative", "scale": {"domain": [523, 540], "nice": false, "zero": false}, "axis": null},
        "text": {"field": "t"},
        "size": {"condition": {"test": "datum.t === 'CeNiO'", "value": 88}, "value": 94}
      }
    },
    {
      "data": {"name": "subs"},
      "mark": {"type": "text", "font": "Liberation Sans", "fontWeight": "bold", "fontSize": 60, "align": "left", "baseline": "alphabetic", "color": "black"},
      "encoding": {
        "x": {"field": "e", "type": "quantitative", "scale": {"domain": [523, 540], "nice": false, "zero": false}, "axis": null},
        "text": {"field": "t"}
      }
    },
    {
      "data": {"name": "marks"},
      "mark": {"type": "text", "font": "Liberation Sans", "fontWeight": "bold", "fontSize": 194, "align": "left", "baseline": "alphabetic", "color": "black"},
      "encoding": {
        "x": {"field": "e", "type": "quantitative", "scale": {"domain": [523, 540], "nice": false, "zero": false}, "axis": null},
        "text": {"field": "t"}
      }
    },
    {
      "data": {"name": "core"},
      "mark": {"type": "text", "font": "Liberation Sans", "fontWeight": "bold", "fontSize": 154, "align": "right", "baseline": "alphabetic", "color": "black"},
      "encoding": {
        "x": {"field": "e", "type": "quantitative", "scale": {"domain": [523, 540], "nice": false, "zero": false}, "axis": null},
        "text": {"field": "t"}
      }
    }
  ]
}
